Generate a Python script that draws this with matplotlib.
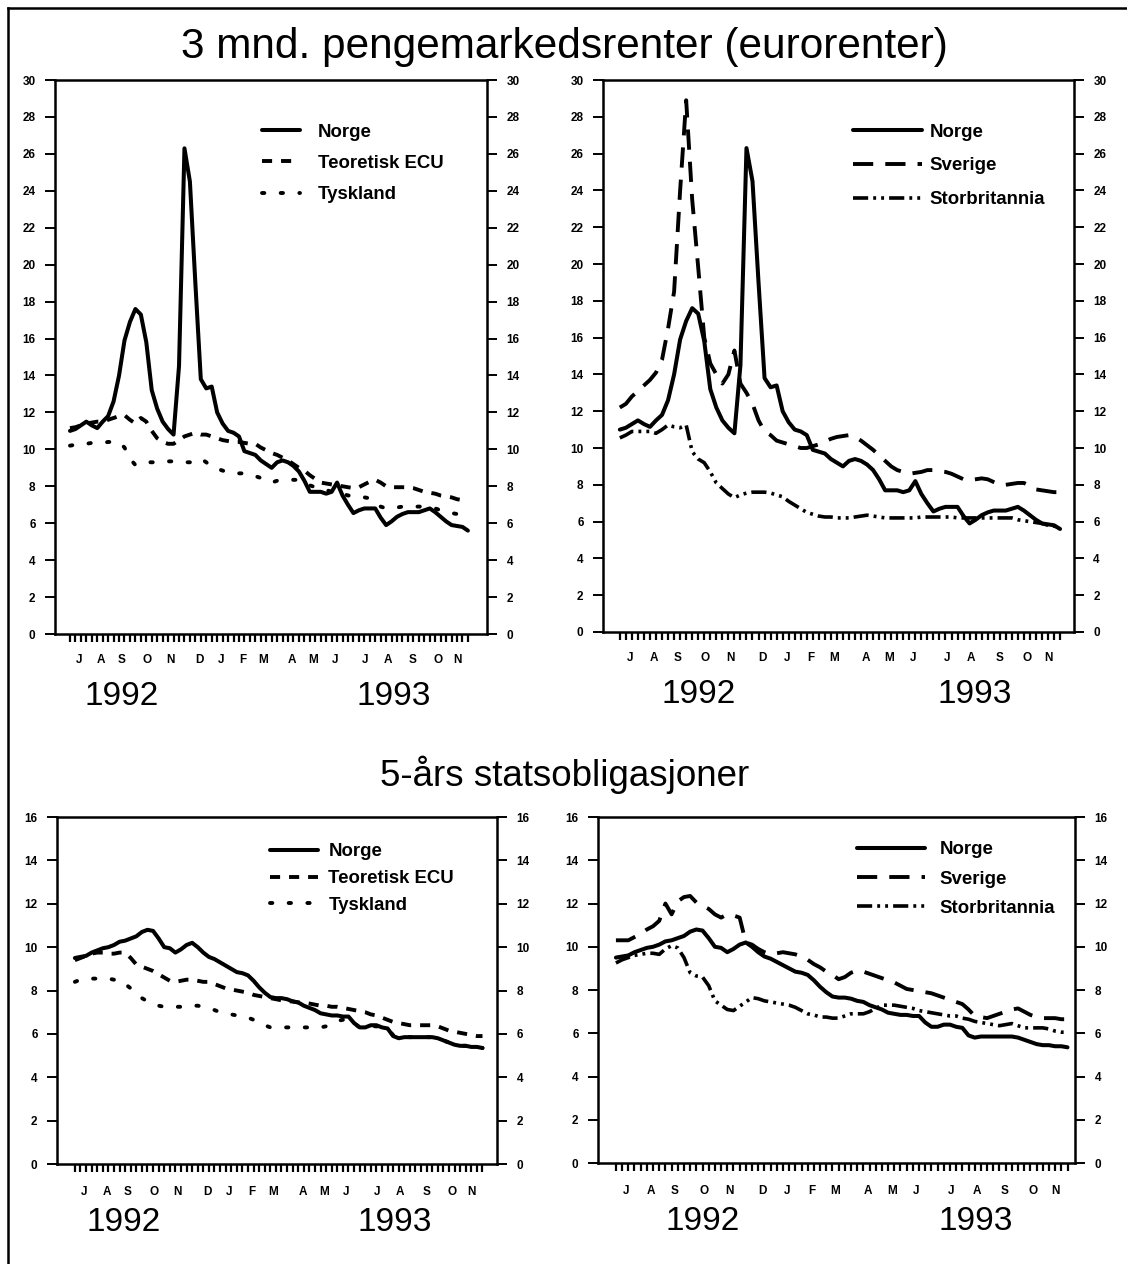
import numpy as np
import matplotlib
matplotlib.use("Agg")
import matplotlib.pyplot as plt
from matplotlib.lines import Line2D

plt.rcParams['font.family'] = ['Liberation Sans', 'DejaVu Sans']

# uker fra begynnelsen av juli 1992 til slutten av november 1993
weeks = np.arange(74)

# 3 mnd. eurorenter
norge_3m = [11.0, 11.1, 11.3, 11.5, 11.3, 11.15, 11.5, 11.8, 12.6, 14.0,
            15.9, 16.9, 17.6, 17.3, 15.8, 13.2, 12.2, 11.5, 11.1, 10.8,
            14.5, 26.3, 24.5, 19.0, 13.8, 13.3, 13.4, 12.0, 11.4, 11.0,
            10.9, 10.7, 9.9, 9.8, 9.7, 9.4, 9.2, 9.0, 9.3, 9.4,
            9.3, 9.1, 8.8, 8.3, 7.7, 7.7, 7.7, 7.6, 7.7, 8.2,
            7.5, 7.0, 6.55, 6.7, 6.8, 6.8, 6.8, 6.3, 5.9, 6.1,
            6.35, 6.5, 6.6, 6.6, 6.6, 6.7, 6.8, 6.6, 6.35, 6.1,
            5.9, 5.85, 5.8, 5.6]
ecu_3m = [11.15, 11.2, 11.3, 11.4, 11.45, 11.5, 11.5, 11.6, 11.7, 11.8,
          11.85, 11.6, 11.4, 11.7, 11.5, 11.0, 10.6, 10.4, 10.3, 10.3,
          10.5, 10.7, 10.8, 10.9, 10.8, 10.8, 10.7, 10.6, 10.5, 10.45,
          10.4, 10.4, 10.35, 10.3, 10.3, 10.1, 9.95, 9.8, 9.7, 9.55,
          9.4, 9.2, 9.0, 8.85, 8.6, 8.4, 8.2, 8.15, 8.1, 8.05,
          8.0, 7.95, 7.9, 7.95, 8.1, 8.25, 8.35, 8.2, 8.0, 7.95,
          7.95, 7.95, 7.95, 7.9, 7.8, 7.7, 7.65, 7.6, 7.5, 7.45,
          7.4, 7.3, 7.25, 7.1]
tyskland_3m = [10.2, 10.25, 10.3, 10.3, 10.35, 10.35, 10.35, 10.4, 10.4, 10.4,
               10.1, 9.5, 9.15, 9.2, 9.3, 9.3, 9.3, 9.35, 9.35, 9.35,
               9.3, 9.3, 9.3, 9.4, 9.5, 9.3, 9.05, 8.95, 8.85, 8.75,
               8.75, 8.7, 8.7, 8.65, 8.55, 8.45, 8.35, 8.2, 8.3, 8.35,
               8.35, 8.35, 8.35, 8.2, 8.05, 7.95, 7.9, 7.8, 7.7, 7.65,
               7.6, 7.5, 7.5, 7.45, 7.4, 7.35, 7.1, 6.9, 6.8, 6.8,
               6.85, 6.9, 6.9, 6.9, 6.9, 6.9, 6.85, 6.8, 6.7, 6.65,
               6.55, 6.5, 6.45, 6.3]
sverige_3m = [12.2, 12.4, 12.8, 13.1, 13.4, 13.7, 14.1, 14.8, 16.5, 18.5,
              24.0, 28.9, 23.5, 19.8, 16.0, 14.6, 14.0, 13.5, 14.0, 15.3,
              13.5, 13.0, 12.4, 11.5, 10.9, 10.7, 10.4, 10.3, 10.2, 10.1,
              10.0, 10.0, 10.1, 10.2, 10.35, 10.5, 10.6, 10.65, 10.7, 10.6,
              10.4, 10.15, 9.9, 9.6, 9.3, 9.0, 8.8, 8.7, 8.6, 8.65,
              8.7, 8.8, 8.8, 8.75, 8.7, 8.6, 8.45, 8.3, 8.25, 8.3,
              8.35, 8.3, 8.15, 8.0, 8.0, 8.05, 8.1, 8.1, 7.95, 7.75,
              7.7, 7.65, 7.6, 7.6]
uk_3m = [10.55, 10.7, 10.9, 10.9, 10.9, 10.9, 10.8, 11.0, 11.25, 11.15,
         11.1, 11.25, 9.8, 9.4, 9.2, 8.7, 8.1, 7.8, 7.5, 7.3,
         7.45, 7.55, 7.6, 7.6, 7.6, 7.55, 7.45, 7.35, 7.1, 6.9,
         6.7, 6.5, 6.4, 6.3, 6.25, 6.25, 6.2, 6.2, 6.2, 6.25,
         6.3, 6.35, 6.3, 6.25, 6.2, 6.2, 6.2, 6.2, 6.2, 6.2,
         6.25, 6.25, 6.25, 6.25, 6.25, 6.25, 6.2, 6.2, 6.2, 6.2,
         6.2, 6.2, 6.2, 6.2, 6.2, 6.2, 6.1, 6.05, 6.0, 5.95,
         5.9, 5.8, 5.75, 5.7]

# 5-års statsobligasjoner
norge_5y = [9.5, 9.55, 9.6, 9.75, 9.85, 9.95, 10.0, 10.1, 10.25, 10.3,
            10.4, 10.5, 10.7, 10.8, 10.75, 10.4, 10.0, 9.95, 9.75, 9.9,
            10.1, 10.2, 10.0, 9.75, 9.55, 9.45, 9.3, 9.15, 9.0, 8.85,
            8.8, 8.7, 8.45, 8.15, 7.9, 7.7, 7.65, 7.65, 7.6, 7.5,
            7.45, 7.3, 7.2, 7.1, 6.95, 6.9, 6.85, 6.85, 6.8, 6.8,
            6.5, 6.3, 6.3, 6.4, 6.4, 6.3, 6.25, 5.9, 5.8, 5.85,
            5.85, 5.85, 5.85, 5.85, 5.85, 5.8, 5.7, 5.6, 5.5, 5.45,
            5.45, 5.4, 5.4, 5.35]
ecu_5y = [9.4, 9.5, 9.6, 9.7, 9.75, 9.75, 9.7, 9.7, 9.75, 9.75,
          9.5, 9.2, 9.1, 9.0, 8.9, 8.75, 8.6, 8.45, 8.4, 8.45,
          8.5, 8.5, 8.45, 8.4, 8.4, 8.3, 8.2, 8.1, 8.05, 8.0,
          7.95, 7.9, 7.8, 7.75, 7.7, 7.65, 7.6, 7.55, 7.5, 7.5,
          7.45, 7.45, 7.4, 7.35, 7.3, 7.3, 7.25, 7.25, 7.2, 7.15,
          7.1, 7.05, 7.0, 6.9, 6.85, 6.75, 6.65, 6.55, 6.5, 6.45,
          6.4, 6.4, 6.4, 6.4, 6.4, 6.35, 6.25, 6.15, 6.1, 6.05,
          6.0, 5.95, 5.9, 5.9]
tyskland_5y = [8.4, 8.5, 8.55, 8.55, 8.55, 8.55, 8.55, 8.5, 8.5, 8.3,
               8.1, 7.85, 7.65, 7.5, 7.4, 7.3, 7.25, 7.25, 7.25, 7.25,
               7.25, 7.3, 7.3, 7.25, 7.15, 7.1, 7.0, 6.95, 6.9, 6.85,
               6.8, 6.75, 6.65, 6.5, 6.4, 6.3, 6.3, 6.3, 6.3, 6.3,
               6.3, 6.3, 6.3, 6.3, 6.3, 6.35, 6.5, 6.6, 6.65, 6.7,
               6.5, 6.3, 6.3, 6.35, 6.35, 6.3, 6.2, 5.95, 5.85, 5.85,
               5.85, 5.85, 5.85, 5.85, 5.85, 5.8, 5.7, 5.6, 5.5, 5.45,
               5.45, 5.4, 5.4, 5.35]
sverige_5y = [10.3, 10.3, 10.3, 10.45, 10.6, 10.8, 10.95, 11.2, 12.0, 11.5,
              12.1, 12.3, 12.35, 12.05, 11.9, 11.75, 11.5, 11.35, 11.5, 11.45,
              11.35, 10.2, 10.1, 9.9, 9.75, 9.65, 9.7, 9.75, 9.7, 9.65,
              9.55, 9.4, 9.2, 9.05, 8.85, 8.7, 8.5, 8.6, 8.8, 8.9,
              8.85, 8.75, 8.65, 8.55, 8.45, 8.35, 8.2, 8.05, 8.0, 7.95,
              7.9, 7.85, 7.75, 7.65, 7.55, 7.45, 7.35, 7.1, 6.8, 6.75,
              6.7, 6.8, 6.9, 7.0, 7.1, 7.15, 7.0, 6.85, 6.75, 6.7,
              6.7, 6.7, 6.65, 6.65]
uk_5y = [9.25, 9.4, 9.5, 9.6, 9.65, 9.7, 9.7, 9.65, 9.9, 10.05,
         9.95, 9.5, 8.8, 8.65, 8.6, 8.2, 7.5, 7.3, 7.1, 7.05,
         7.25, 7.45, 7.65, 7.6, 7.5, 7.45, 7.4, 7.35, 7.3, 7.2,
         7.05, 6.9, 6.85, 6.75, 6.75, 6.7, 6.7, 6.8, 6.9, 6.9,
         6.9, 7.0, 7.15, 7.3, 7.3, 7.3, 7.25, 7.2, 7.15, 7.05,
         7.0, 6.95, 6.9, 6.85, 6.8, 6.8, 6.7, 6.65, 6.55, 6.5,
         6.45, 6.4, 6.35, 6.4, 6.45, 6.35, 6.25, 6.25, 6.25, 6.25,
         6.2, 6.1, 6.05, 6.05]

month_letters = ['J', 'A', 'S', 'O', 'N', 'D', 'J', 'F', 'M',
                 'A', 'M', 'J', 'J', 'A', 'S', 'O', 'N']
month_pos = [1.7, 5.7, 9.5, 14.2, 18.4, 23.7, 27.7, 31.7, 35.5,
             40.8, 44.6, 48.6, 54.2, 58.3, 62.9, 67.5, 71.1]
year_labels = ['1992', '1993']

# stiler
st_norge = dict(color='black', lw=2.9, ls='-', solid_capstyle='round')
st_ecu = dict(color='black', lw=2.8, ls=(0, (2.6, 2.3)))
st_tysk = dict(color='black', lw=2.8, ls=(0, (0.6, 4.2)), dash_capstyle='round')
st_sve = dict(color='black', lw=2.8, ls=(0, (5.2, 3.1)))
st_uk = dict(color='black', lw=2.6, ls=(0, (4.2, 1.4, 0.8, 1.4, 0.8, 1.4)))


def setup_panel(ax, ymax, xlim, year_pos, month_off, year_off):
    ax.set_xlim(*xlim)
    ax.set_ylim(0, ymax)
    ax.set_yticks(np.arange(0, ymax + 1, 2))
    ax.set_xticks(weeks)
    ax.set_xticklabels([])
    for s in ax.spines.values():
        s.set_linewidth(1.8)
    ax.tick_params(axis='y', which='both', direction='out', length=7, width=1.4,
                   left=True, right=True, labelleft=True, labelright=True,
                   labelsize=8.5, pad=7)
    ax.tick_params(axis='x', direction='out', length=5.5, width=1.6, pad=2)
    for lab in ax.get_yticklabels():
        lab.set_fontweight('bold')
    for m, p in zip(month_letters, month_pos):
        ax.annotate(m, xy=(p, 0), xycoords=('data', 'axes fraction'),
                    xytext=(0, -month_off), textcoords='offset points',
                    ha='center', va='center', fontsize=8.5, fontweight='bold')
    for y, p in zip(year_labels, year_pos):
        ax.annotate(y, xy=(p, 0), xycoords=('data', 'axes fraction'),
                    xytext=(0, -year_off), textcoords='offset points',
                    ha='center', va='center', fontsize=24)


fig = plt.figure(figsize=(11.27, 12.64), dpi=100)

ax_tl = fig.add_axes([0.0488, 0.4984, 0.3833, 0.4383])
ax_tr = fig.add_axes([0.5350, 0.5000, 0.4179, 0.4367])
ax_bl = fig.add_axes([0.0506, 0.0791, 0.3904, 0.2745])
ax_br = fig.add_axes([0.5306, 0.0799, 0.4232, 0.2737])

# topp venstre
ax_tl.plot(weeks, norge_3m, label='Norge', **st_norge)
ax_tl.plot(weeks, ecu_3m, label='Teoretisk ECU', **st_ecu)
ax_tl.plot(weeks, tyskland_3m, label='Tyskland', **st_tysk)
setup_panel(ax_tl, 30, (-2.75, 76.5), [9.5, 59.3], 19, 45)

# topp hoyre
ax_tr.plot(weeks, norge_3m, label='Norge', **st_norge)
ax_tr.plot(weeks, sverige_3m, label='Sverige', **st_sve)
ax_tr.plot(weeks, uk_3m, label='Storbritannia', **st_uk)
setup_panel(ax_tr, 30, (-2.8, 75.3), [13.0, 58.9], 19, 45)

# bunn venstre
ax_bl.plot(weeks, norge_5y, label='Norge', **st_norge)
ax_bl.plot(weeks, ecu_5y, label='Teoretisk ECU', **st_ecu)
ax_bl.plot(weeks, tyskland_5y, label='Tyskland', **st_tysk)
setup_panel(ax_bl, 16, (-3.2, 75.6), [8.8, 57.3], 20, 42)

# bunn hoyre
ax_br.plot(weeks, norge_5y, label='Norge', **st_norge)
ax_br.plot(weeks, sverige_5y, label='Sverige', **st_sve)
ax_br.plot(weeks, uk_5y, label='Storbritannia', **st_uk)
setup_panel(ax_br, 16, (-2.9, 74.2), [14.0, 58.2], 20, 42)

leg_kw = dict(frameon=False, loc='upper left', borderpad=0, borderaxespad=0,
              prop={'size': 13.4, 'weight': 'bold'})
ax_tl.legend(bbox_to_anchor=(0.479, 0.921), handlelength=2.05, handletextpad=0.97,
             labelspacing=0.76, **leg_kw)
ax_tr.legend(bbox_to_anchor=(0.531, 0.921), handlelength=3.7, handletextpad=0.43,
             labelspacing=0.9, **leg_kw)
ax_bl.legend(bbox_to_anchor=(0.484, 0.924), handlelength=2.6, handletextpad=0.54,
             labelspacing=0.52, **leg_kw)
ax_br.legend(bbox_to_anchor=(0.543, 0.93), handlelength=3.65, handletextpad=0.8,
             labelspacing=0.66, **leg_kw)

fig.text(0.501, 0.963, '3 mnd. pengemarkedsrenter (eurorenter)', ha='center',
         va='center', fontsize=30.5)
fig.text(0.501, 0.387, '5-års statsobligasjoner', ha='center', va='center',
         fontsize=26.5)

# ramme rundt figuren (venstre og topp)
fig.add_artist(Line2D([0.007, 0.007], [0.0, 0.9937], color='black', lw=1.8))
fig.add_artist(Line2D([0.007, 1.0], [0.9937, 0.9937], color='black', lw=1.8))

fig.savefig('out.png', dpi=100, facecolor='white')
